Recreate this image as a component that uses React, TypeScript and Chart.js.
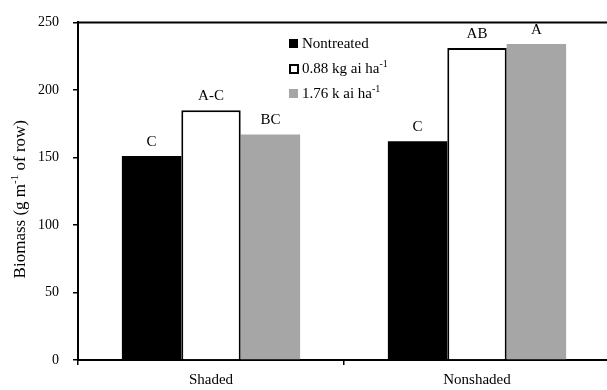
import { useEffect, useRef } from 'react';
import { Chart, registerables } from 'chart.js';

Chart.register(...registerables);

const FONT = "'Liberation Serif', 'Times New Roman', serif";

// Data
const categories = ['Shaded', 'Nonshaded'];
const nontreated = [151, 162];
const rate088 = [185, 231];
const rate176 = [167, 234];
const nontreatedLetters = ['C', 'C'];
const rate088Letters = ['A-C', 'AB'];
const rate176Letters = ['BC', 'A'];
const yTicks = [0, 50, 100, 150, 200, 250];

const legendItems = [
  { text: 'Nontreated', sup: '', fill: '#000000', stroke: '' },
  { text: '0.88 kg ai ha', sup: '-1', fill: '#ffffff', stroke: '#000000' },
  { text: '1.76 k ai ha', sup: '-1', fill: '#a6a6a6', stroke: '' },
];

const letterSets = [nontreatedLetters, rate088Letters, rate176Letters];

const decorPlugin = {
  id: 'decor',
  afterDraw(chart: any) {
    const { ctx, chartArea } = chart;
    ctx.save();

    // top frame line
    ctx.strokeStyle = '#000';
    ctx.lineWidth = 2;
    ctx.beginPath();
    ctx.moveTo(chartArea.left - 1, chartArea.top);
    ctx.lineTo(chart.width, chartArea.top);
    ctx.stroke();

    // significance letters above bars
    ctx.fillStyle = '#000';
    ctx.font = `15px ${FONT}`;
    ctx.textAlign = 'center';
    ctx.textBaseline = 'alphabetic';
    letterSets.forEach((letters, di) => {
      const meta = chart.getDatasetMeta(di);
      meta.data.forEach((bar: any, i: number) => {
        ctx.fillText(letters[i], bar.x, bar.y - 10);
      });
    });

    // legend
    ctx.textAlign = 'left';
    legendItems.forEach((item, i) => {
      const baseY = 48 + i * 25;
      const sx = 289;
      const sy = baseY - 9;
      ctx.fillStyle = item.fill;
      ctx.fillRect(sx, sy, 9, 9);
      if (item.stroke) {
        ctx.strokeStyle = item.stroke;
        ctx.lineWidth = 2;
        ctx.strokeRect(sx + 1, sy + 1, 8, 8);
      }
      ctx.fillStyle = '#000';
      ctx.font = `15px ${FONT}`;
      ctx.fillText(item.text, 302, baseY);
      if (item.sup) {
        const w = ctx.measureText(item.text).width;
        ctx.font = `10px ${FONT}`;
        ctx.fillText(item.sup, 302 + w, baseY - 6);
      }
    });

    // y-axis title with superscript
    const cy = (chartArea.top + chartArea.bottom) / 2 + 8;
    const parts = [
      { t: 'Biomass (g m', size: 17, dy: 0 },
      { t: '-1', size: 11, dy: -7 },
      { t: ' of row)', size: 17, dy: 0 },
    ];
    let total = 0;
    parts.forEach((p) => {
      ctx.font = `${p.size}px ${FONT}`;
      total += ctx.measureText(p.t).width;
    });
    ctx.translate(25, cy);
    ctx.rotate(-Math.PI / 2);
    let x = -total / 2;
    parts.forEach((p) => {
      ctx.font = `${p.size}px ${FONT}`;
      ctx.fillText(p.t, x, p.dy);
      x += ctx.measureText(p.t).width;
    });
    ctx.restore();
  },
};

export default function App() {
  const ref = useRef<HTMLCanvasElement>(null);

  useEffect(() => {
    const chart = new Chart(ref.current!, {
      type: 'bar',
      data: {
        labels: categories,
        datasets: [
          { label: 'Nontreated', data: nontreated, backgroundColor: '#000000', borderWidth: 0 },
          { label: '0.88 kg ai ha-1', data: rate088, backgroundColor: '#ffffff', borderColor: '#000000', borderWidth: 2 },
          { label: '1.76 k ai ha-1', data: rate176, backgroundColor: '#a6a6a6', borderWidth: 0 },
        ],
      },
      options: {
        animation: false,
        responsive: true,
        maintainAspectRatio: false,
        layout: { padding: { top: 17, left: 0, right: 0, bottom: 0 } },
        datasets: { bar: { categoryPercentage: 0.67, barPercentage: 1 } },
        plugins: { legend: { display: false }, tooltip: { enabled: false } },
        scales: {
          x: {
            grid: { display: true, drawOnChartArea: false, drawTicks: true, tickLength: 5, color: '#000', lineWidth: 1.5 },
            border: { display: true, color: '#000', width: 2 },
            ticks: { color: '#000', font: { family: FONT, size: 15 }, padding: 6 },
            afterFit: (s: any) => { s.height = 30; },
          },
          y: {
            min: 0,
            max: 250,
            afterBuildTicks: (s: any) => { s.ticks = yTicks.map((v) => ({ value: v })); },
            grid: { display: true, drawOnChartArea: false, drawTicks: true, tickLength: 5, color: '#000', lineWidth: 1.5 },
            border: { display: true, color: '#000', width: 2 },
            ticks: { color: '#000', font: { family: FONT, size: 14 }, padding: 14 },
            afterFit: (s: any) => { s.width = 78; },
          },
        },
      },
      plugins: [decorPlugin],
    });
    return () => chart.destroy();
  }, []);

  return (
    <div style={{ position: 'fixed', left: 0, top: 0, width: 610, height: 390, background: '#fff' }}>
      <canvas ref={ref} />
    </div>
  );
}
